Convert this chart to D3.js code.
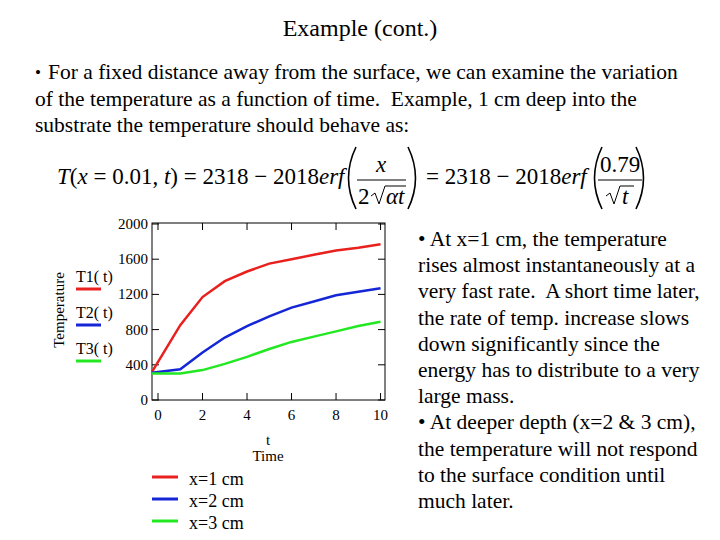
<!DOCTYPE html>
<html><head><meta charset="utf-8">
<script src="https://cdn.jsdelivr.net/npm/d3@7"></script>
<style>body{margin:0;background:#fff}text{font-family:"Liberation Serif","Times New Roman",serif;white-space:pre}</style>
</head><body>
<script>
var times = [-0.27, 1, 2, 3, 4, 5, 6, 7, 8, 9, 10]
var t1 = [320, 850, 1170, 1350, 1460, 1550, 1600, 1650, 1700, 1730, 1770]
var t2 = [310, 350, 540, 710, 840, 950, 1050, 1120, 1190, 1230, 1270]
var t3 = [300, 300, 340, 410, 490, 580, 660, 720, 780, 840, 890]
var seriesNames = ['T1( t)', 'T2( t)', 'T3( t)']
var legendNames = ['x=1 cm', 'x=2 cm', 'x=3 cm']
var colors = ['#e8201e', '#1426d6', '#22e822']
var xTicks = [0, 2, 4, 6, 8, 10]
var yTicks = [0, 400, 800, 1200, 1600, 2000]

var svg = d3.select('body').append('svg').attr('width', 720).attr('height', 540)

svg.append('text').attr('x', 360).attr('y', 36).attr('text-anchor', 'middle')
  .attr('font-size', 24).text('Example (cont.)')

var intro = ['For a fixed distance away from the surface, we can examine the variation',
  'of the temperature as a function of time.  Example, 1 cm deep into the',
  'substrate the temperature should behave as:']
intro.forEach(function(s, i) {
  svg.append('text').attr('x', i ? 35 : 48).attr('y', 79 + i * 26.5).attr('font-size', 21.5).text(s)
})
svg.append('text').attr('x', 35).attr('y', 78).attr('font-size', 17).text('•')

// equation
var eq = svg.append('g').attr('font-size', 23)
eq.append('text').attr('x', 57).attr('y', 184).html('<tspan font-style="italic">T</tspan>(<tspan font-style="italic">x</tspan> = 0.01, <tspan font-style="italic">t</tspan>) = 2318 − 2018<tspan font-style="italic">erf</tspan>')
eq.append('text').attr('x', 426).attr('y', 184).html('= 2318 − 2018<tspan font-style="italic">erf</tspan>')
function paren(x, dir) {
  var w = 12 * dir
  eq.append('path').attr('d', 'M' + (x + w) + ',147 Q' + (x - 3 * dir) + ',178 ' + (x + w) + ',209')
    .attr('fill', 'none').attr('stroke', '#000').attr('stroke-width', 1.6)
}
paren(344, 1); paren(420, -1); paren(590, 1); paren(648, -1)
eq.append('line').attr('x1', 357).attr('x2', 406).attr('y1', 180).attr('y2', 180).attr('stroke', '#000')
eq.append('text').attr('x', 381).attr('y', 172).attr('text-anchor', 'middle').attr('font-style', 'italic').text('x')
eq.append('text').attr('x', 358).attr('y', 204).text('2')
eq.append('path').attr('d', 'M371,196 L375,193 L379,204 L385,186 L406,186').attr('fill', 'none').attr('stroke', '#000')
eq.append('text').attr('x', 386).attr('y', 204).attr('font-style', 'italic').text('αt')
eq.append('line').attr('x1', 598).attr('x2', 642).attr('y1', 180).attr('y2', 180).attr('stroke', '#000')
eq.append('text').attr('x', 620).attr('y', 172).attr('text-anchor', 'middle').text('0.79')
eq.append('path').attr('d', 'M606,196 L610,193 L614,204 L620,186 L634,186').attr('fill', 'none').attr('stroke', '#000')
eq.append('text').attr('x', 622).attr('y', 204).attr('font-style', 'italic').text('t')

// chart
var x = d3.scaleLinear().domain([-0.27, 10.2]).range([152, 385])
var y = d3.scaleLinear().domain([0, 2000]).range([400, 224])
var g = svg.append('g').attr('font-size', 15)
g.append('rect').attr('x', 152).attr('y', 223).attr('width', 233).attr('height', 177)
  .attr('fill', 'none').attr('stroke', '#000')
xTicks.forEach(function(v) {
  g.append('line').attr('x1', x(v)).attr('x2', x(v)).attr('y1', 400).attr('y2', 393).attr('stroke', '#000')
  g.append('line').attr('x1', x(v)).attr('x2', x(v)).attr('y1', 223).attr('y2', 230).attr('stroke', '#000')
  g.append('text').attr('x', x(v)).attr('y', 420).attr('text-anchor', 'middle').text(v)
})
yTicks.forEach(function(v) {
  g.append('line').attr('x1', 152).attr('x2', 159).attr('y1', y(v)).attr('y2', y(v)).attr('stroke', '#000')
  g.append('line').attr('x1', 385).attr('x2', 378).attr('y1', y(v)).attr('y2', y(v)).attr('stroke', '#000')
  g.append('text').attr('x', 148).attr('y', y(v) + 5).attr('text-anchor', 'end').text(v)
})
var line = d3.line().x(function(d, i) { return x(times[i]) }).y(function(d) { return y(d) })
;[t1, t2, t3].forEach(function(s, i) {
  g.append('path').attr('d', line(s)).attr('fill', 'none').attr('stroke', colors[i]).attr('stroke-width', 2.5)
  g.append('text').attr('x', 76).attr('y', 282 + i * 36).attr('font-size', 16).text(seriesNames[i])
  g.append('line').attr('x1', 76).attr('x2', 101).attr('y1', 289 + i * 36).attr('y2', 289 + i * 36)
    .attr('stroke', colors[i]).attr('stroke-width', 3)
  g.append('line').attr('x1', 152).attr('x2', 178).attr('y1', 477 + i * 22).attr('y2', 477 + i * 22)
    .attr('stroke', colors[i]).attr('stroke-width', 3)
  g.append('text').attr('x', 189).attr('y', 485 + i * 22).attr('font-size', 18).text(legendNames[i])
})
g.append('text').attr('transform', 'translate(64,310) rotate(-90)').attr('text-anchor', 'middle').text('Temperature')
g.append('text').attr('x', 268).attr('y', 445).attr('text-anchor', 'middle').text('t')
g.append('text').attr('x', 268).attr('y', 461).attr('text-anchor', 'middle').text('Time')

var notes = ['• At x=1 cm, the temperature', 'rises almost instantaneously at a', 'very fast rate.  A short time later,',
  'the rate of temp. increase slows', 'down significantly since the', 'energy has to distribute to a very',
  'large mass.', '• At deeper depth (x=2 & 3 cm),', 'the temperature will not respond',
  'to the surface condition until', 'much later.']
notes.forEach(function(s, i) {
  svg.append('text').attr('x', 418).attr('y', 246 + i * 26.2).attr('font-size', 21.5).text(s)
})
</script>
</body></html>
